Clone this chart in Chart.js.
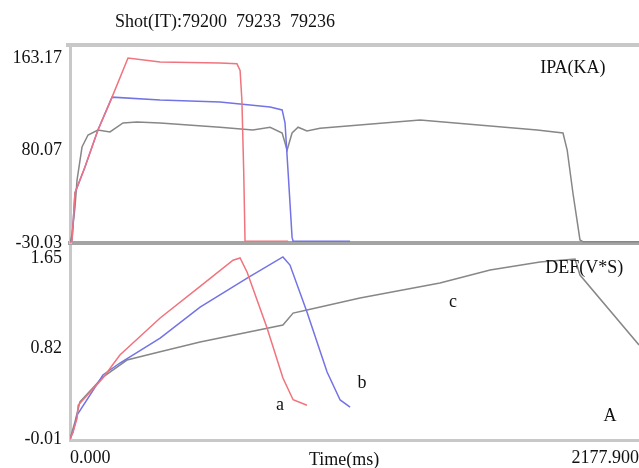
<!DOCTYPE html>
<html>
<head>
<meta charset="utf-8">
<script src="https://cdn.jsdelivr.net/npm/chart.js@4"></script>
<style>
  body { margin: 0; background: #fff; }
  #wrap { position: relative; width: 639px; height: 468px; }
  #top { position: absolute; left: 0; top: 0; width: 639px; height: 262px; z-index: 2; }
  #bot { position: absolute; left: 0; top: 245px; width: 639px; height: 223px; z-index: 1; }
</style>
</head>
<body>
<div id="wrap">
  <div id="top"><canvas id="ipa"></canvas></div>
  <div id="bot"><canvas id="def"></canvas></div>
</div>
<script>
// shots and axis labels
const shots = ['79200', '79233', '79236'];
const xTicks = [0, 2177.9];
const xTickLabels = ['0.000', '2177.900'];
const ipaTicks = [163.17, 80.07, -3.03];
const ipaTickLabels = ['163.17', '80.07', '-30.03'];
const defTicks = [1.65, 0.82, -0.01];
const defTickLabels = ['1.65', '0.82', '-0.01'];

// IPA(KA), time in ms
const ipaTimeA = [0, 8, 19, 57, 107, 161, 222, 345, 574, 639, 651, 658, 665, 670, 700, 835];
const ipaA     = [-3, -0.3, 42, 65, 98.5, 128, 163.2, 159.6, 158.7, 158, 152, 125, 60, -1.5, -1.5, -1.5];
const ipaTimeB = [0, 8, 19, 57, 107, 161, 345, 574, 766, 812, 823, 835, 850, 854, 1072];
const ipaB     = [-3, -0.3, 42, 65, 98.5, 128, 125.4, 123.6, 119.2, 116.5, 105, 60, 2, -1.5, -1.5];
const ipaTimeC = [0, 8, 19, 27, 46, 69, 107, 153, 203, 256, 345, 574, 700, 766, 812, 831, 850, 873, 907, 957, 1340, 1788, 1887, 1903, 1925, 1952, 1964, 2177.9];
const ipaC     = [-3, 5, 29, 53.6, 83.2, 94, 98.5, 96.7, 104.8, 105.7, 104.8, 101, 98.5, 101, 95.8, 80.5, 95.8, 101, 97.6, 100, 107.5, 98.5, 95.8, 80.5, 41.9, -0.3, -2, -2];

// DEF(V*S)
const defTimeA = [0, 11, 27, 31, 126, 191, 345, 498, 624, 651, 678, 754, 815, 854, 907];
const defA     = [-0.01, 0.05, 0.18, 0.30, 0.55, 0.76, 1.10, 1.39, 1.63, 1.65, 1.52, 1.01, 0.55, 0.35, 0.30];
const defTimeB = [0, 11, 27, 126, 191, 345, 498, 678, 815, 842, 907, 984, 1034, 1072];
const defB     = [-0.01, 0.05, 0.21, 0.577, 0.687, 0.916, 1.20, 1.466, 1.66, 1.585, 1.155, 0.604, 0.348, 0.283];
const defTimeC = [0, 19, 38, 126, 218, 345, 498, 815, 854, 907, 1110, 1416, 1608, 1799, 1933, 1952, 2177.9];
const defC     = [-0.01, 0.146, 0.33, 0.558, 0.714, 0.79, 0.88, 1.035, 1.145, 1.173, 1.283, 1.42, 1.54, 1.613, 1.64, 1.494, 0.852];

const serif = "'Liberation Serif', 'Times New Roman', serif";
const colors = ['rgb(240,115,125)', 'rgb(115,115,230)', 'rgb(135,135,135)'];

const zip = (ts, vs) => ts.map((t, i) => ({ x: t, y: vs[i] }));
const line = (label, ts, vs, color) => ({
  label, data: zip(ts, vs), borderColor: color, borderWidth: 1.5,
  pointRadius: 0, tension: 0, fill: false
});

// free text placed in data coordinates
const notes = {
  id: 'notes',
  afterDraw(chart, args, opts) {
    const { ctx, scales: { x, y } } = chart;
    ctx.save();
    ctx.font = opts.size + 'px ' + serif;
    ctx.fillStyle = '#111';
    ctx.textBaseline = 'middle';
    for (const n of opts.items) {
      ctx.textAlign = n.align || 'center';
      ctx.fillText(n.text, x.getPixelForValue(n.t), y.getPixelForValue(n.v));
    }
    ctx.restore();
  }
};

// top border of the upper panel
const frame = {
  id: 'frame',
  beforeDatasetsDraw(chart, args, opts) {
    if (!opts.top) return;
    const { ctx, chartArea: a } = chart;
    ctx.save();
    ctx.strokeStyle = '#c8c8c8';
    ctx.lineWidth = 4;
    ctx.beginPath();
    ctx.moveTo(a.left - 4, a.top);
    ctx.lineTo(a.right, a.top);
    ctx.stroke();
    ctx.restore();
  }
};

function yAxis(min, max, ticks, labels) {
  return {
    min, max,
    afterFit: s => { s.width = 70; s.paddingTop = 0; s.paddingBottom = 0; },
    afterBuildTicks: s => { s.ticks = ticks.map(v => ({ value: v })); },
    grid: { display: false, drawTicks: false },
    border: { display: true, color: '#c8c8c8', width: 3 },
    ticks: {
      padding: 8, color: '#111', font: { family: serif, size: 18 },
      callback: (v, i) => labels[i]
    }
  };
}

new Chart(document.getElementById('ipa'), {
  type: 'line',
  data: {
    datasets: [
      line(shots[0], ipaTimeA, ipaA, colors[0]),
      line(shots[1], ipaTimeB, ipaB, colors[1]),
      line(shots[2], ipaTimeC, ipaC, colors[2])
    ]
  },
  options: {
    animation: false, responsive: true, maintainAspectRatio: false,
    layout: { padding: { top: 45, left: 0, right: 0, bottom: 17 } },
    plugins: {
      legend: { display: false }, tooltip: { enabled: false },
      frame: { top: true },
      notes: {
        size: 18,
        items: [
          { text: 'Shot(IT):' + shots.join('  '), t: 172, v: 195.5, align: 'left' },
          { text: 'IPA(KA)', t: 2050, v: 154.2, align: 'right' }
        ]
      }
    },
    scales: {
      x: {
        type: 'linear', min: xTicks[0], max: xTicks[1],
        afterFit: s => { s.height = 2; s.paddingLeft = 0; s.paddingRight = 0; },
        grid: { display: false, drawTicks: false },
        border: { display: true, color: '#a4a4a4', width: 4 },
        ticks: { display: false }
      },
      y: yAxis(-3.03, 174.85, ipaTicks, ipaTickLabels)
    }
  },
  plugins: [notes, frame]
});

new Chart(document.getElementById('def'), {
  type: 'line',
  data: {
    datasets: [
      line(shots[0], defTimeA, defA, colors[0]),
      line(shots[1], defTimeB, defB, colors[1]),
      line(shots[2], defTimeC, defC, colors[2])
    ]
  },
  options: {
    animation: false, responsive: true, maintainAspectRatio: false,
    layout: { padding: { top: 1, left: 0, right: 0, bottom: 0 } },
    plugins: {
      legend: { display: false }, tooltip: { enabled: false },
      frame: { top: false },
      notes: {
        size: 18,
        items: [
          { text: 'DEF(V*S)', t: 1968, v: 1.56 },
          { text: 'a', t: 804, v: 0.30 },
          { text: 'b', t: 1118, v: 0.50 },
          { text: 'c', t: 1466, v: 1.24 },
          { text: 'A', t: 2067, v: 0.20 },
          { text: 'Time(ms)', t: 1049, v: -0.202 }
        ]
      }
    },
    scales: {
      x: {
        type: 'linear', min: xTicks[0], max: xTicks[1],
        afterFit: s => { s.height = 28; s.paddingLeft = 0; s.paddingRight = 0; },
        afterBuildTicks: s => { s.ticks = xTicks.map(v => ({ value: v })); },
        grid: { display: false, drawTicks: false },
        border: { display: true, color: '#c8c8c8', width: 3 },
        ticks: {
          align: 'inner', maxRotation: 0, padding: 7, color: '#111',
          font: { family: serif, size: 18 },
          callback: (v, i) => xTickLabels[i]
        }
      },
      y: yAxis(-0.019, 1.76, defTicks, defTickLabels)
    }
  },
  plugins: [notes, frame]
});
</script>
</body>
</html>
